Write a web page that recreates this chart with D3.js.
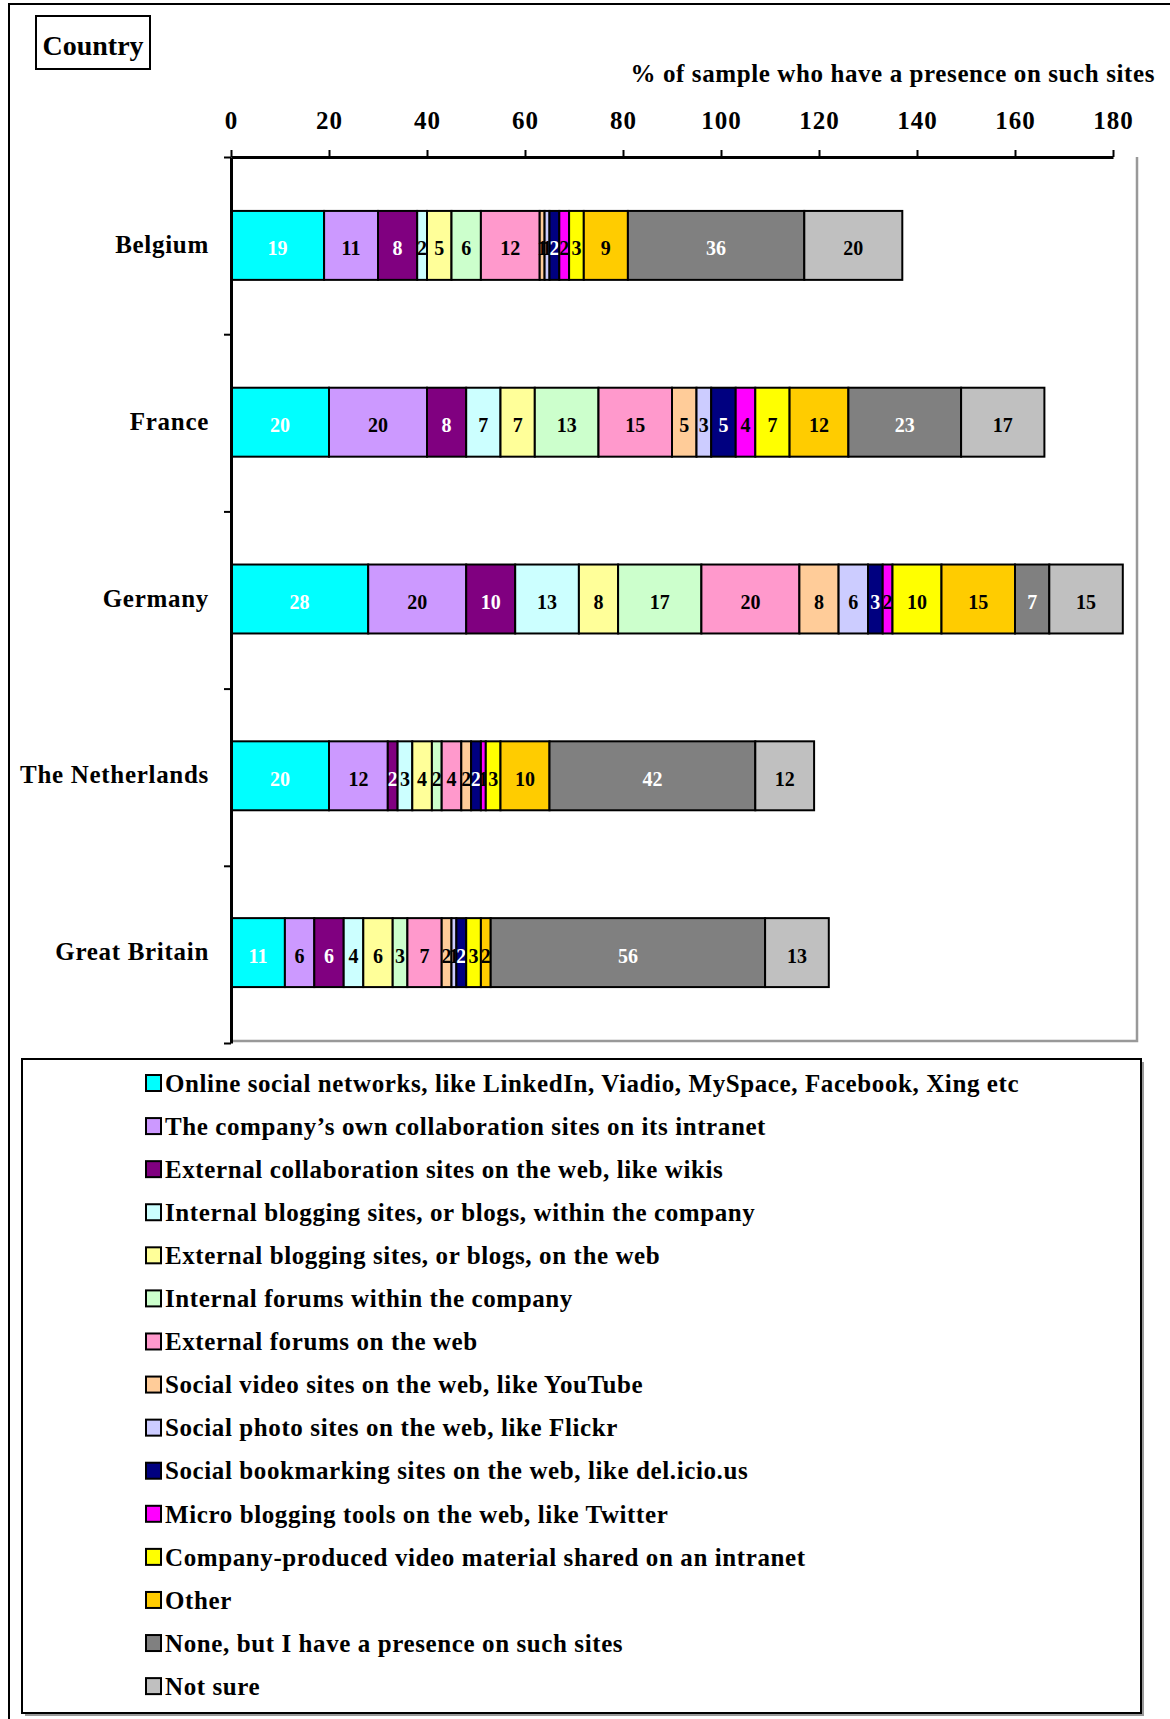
<!DOCTYPE html>
<html lang="en">
<head>
<meta charset="UTF-8">
<title>Presence on social sites by country</title>
<script src="https://cdn.jsdelivr.net/npm/d3@7/dist/d3.min.js"></script>
<style>
  body { margin: 0; background: #fff; }
  text { font-family: "Liberation Serif", "Times New Roman", serif; font-weight: bold; }
</style>
</head>
<body>
<script>
// categories (rows, top to bottom)
const countries = ['Belgium', 'France', 'Germany', 'The Netherlands', 'Great Britain'];

// series (stack order, left to right)
const seriesNames = [
  'Online social networks, like LinkedIn, Viadio, MySpace, Facebook, Xing etc',
  'The company\u2019s own collaboration sites on its intranet',
  'External collaboration sites on the web, like wikis',
  'Internal blogging sites, or blogs, within the company',
  'External blogging sites, or blogs, on the web',
  'Internal forums within the company',
  'External forums on the web',
  'Social video sites on the web, like YouTube',
  'Social photo sites on the web, like Flickr',
  'Social bookmarking sites on the web, like del.icio.us',
  'Micro blogging tools on the web, like Twitter',
  'Company-produced video material shared on an intranet',
  'Other',
  'None, but I have a presence on such sites',
  'Not sure'
];
const seriesColors = ['#00ffff', '#cc99ff', '#800080', '#ccffff', '#ffff99', '#ccffcc', '#ff99cc',
  '#ffcc99', '#ccccff', '#000080', '#ff00ff', '#ffff00', '#ffcc00', '#808080', '#c0c0c0'];
const whiteLabel = ['#00ffff', '#800080', '#000080', '#808080'];

// values per country, in series order
const belgium     = [19, 11, 8, 2, 5, 6, 12, 1, 1, 2, 2, 3, 9, 36, 20];
const france      = [20, 20, 8, 7, 7, 13, 15, 5, 3, 5, 4, 7, 12, 23, 17];
const germany     = [28, 20, 10, 13, 8, 17, 20, 8, 6, 3, 2, 10, 15, 7, 15];
const netherlands = [20, 12, 2, 3, 4, 2, 4, 2, 0, 2, 1, 3, 10, 42, 12];
const britain     = [11, 6, 6, 4, 6, 3, 7, 2, 1, 2, 0, 3, 2, 56, 13];

const xTicks = [0, 20, 40, 60, 80, 100, 120, 140, 160, 180];

const rows = [belgium, france, germany, netherlands, britain].map((vals, i) => {
  const r = { country: countries[i] };
  seriesNames.forEach((s, j) => r[s] = vals[j]);
  return r;
});

const width = 1170, height = 1719;
const plot = { left: 231, top: 157, right: 1137, bottom: 1041 };

const svg = d3.select('body').append('svg')
  .attr('width', width)
  .attr('height', height);

// outer frame (left and top edges)
svg.append('path')
  .attr('d', `M9,${height} V4 H${width}`)
  .attr('fill', 'none')
  .attr('stroke', '#000')
  .attr('stroke-width', 2);

const x = d3.scaleLinear().domain([0, 180]).range([plot.left, 1113]);
const y = d3.scaleBand().domain(countries).range([plot.top, plot.bottom]).paddingInner(0.61).paddingOuter(0.305);

// plot area right/bottom border
svg.append('path')
  .attr('d', `M${plot.right},${plot.top} V${plot.bottom} H${plot.left}`)
  .attr('fill', 'none')
  .attr('stroke', '#999')
  .attr('stroke-width', 2.5);

// stacked bars
const stack = d3.stack().keys(seriesNames)(rows);

const layers = svg.selectAll('g.layer')
  .data(stack)
  .enter().append('g')
  .attr('class', 'layer')
  .attr('fill', (d, i) => seriesColors[i]);

layers.selectAll('rect')
  .data(d => d.filter(p => p[1] > p[0]))
  .enter().append('rect')
  .attr('x', d => x(d[0]))
  .attr('y', d => y(d.data.country))
  .attr('width', d => x(d[1]) - x(d[0]))
  .attr('height', y.bandwidth())
  .attr('stroke', '#000')
  .attr('stroke-width', 2);

layers.each(function (layer, i) {
  d3.select(this).selectAll('text')
    .data(layer.filter(p => p[1] > p[0]))
    .enter().append('text')
    .attr('x', d => (x(d[0]) + x(d[1])) / 2)
    .attr('y', d => y(d.data.country) + y.bandwidth() / 2)
    .attr('dy', '0.5em')
    .attr('text-anchor', 'middle')
    .attr('font-size', 20)
    .attr('fill', whiteLabel.includes(seriesColors[i]) ? '#fff' : '#000')
    .text(d => d[1] - d[0]);
});

// top axis
const xAxis = svg.append('g')
  .attr('transform', `translate(0,${plot.top})`)
  .call(d3.axisTop(x).tickValues(xTicks).tickSize(7).tickPadding(21).tickSizeOuter(0));
xAxis.select('.domain').attr('stroke-width', 3);
xAxis.selectAll('.tick line').attr('stroke-width', 2);
xAxis.selectAll('.tick text')
  .attr('font-size', 25)
  .attr('letter-spacing', 1)
  .attr('font-family', '"Liberation Serif", serif')
  .attr('font-weight', 'bold')
  .attr('fill', '#000');

// left axis, ticks at band edges
const yEdge = d3.scaleLinear().domain([0, countries.length]).range([plot.top, plot.bottom + 2]);
const yAxis = svg.append('g')
  .attr('transform', `translate(${plot.left},0)`)
  .call(d3.axisLeft(yEdge).ticks(countries.length).tickFormat('').tickSize(7).tickSizeOuter(0));
yAxis.select('.domain').attr('stroke-width', 3);
yAxis.selectAll('.tick line').attr('stroke-width', 2);

// country labels
svg.append('g').selectAll('text')
  .data(countries)
  .enter().append('text')
  .attr('x', 209)
  .attr('y', d => y(d) + y.bandwidth() / 2)
  .attr('dy', '0.3em')
  .attr('text-anchor', 'end')
  .attr('font-size', 25)
  .attr('letter-spacing', 0.7)
  .text(d => d);

// axis title
svg.append('text')
  .attr('x', 1155)
  .attr('y', 82)
  .attr('text-anchor', 'end')
  .attr('font-size', 25)
  .attr('letter-spacing', 0.6)
  .text('% of sample who have a presence on such sites');

// "Country" box
svg.append('rect')
  .attr('x', 36).attr('y', 16).attr('width', 114).attr('height', 53)
  .attr('fill', '#fff').attr('stroke', '#000').attr('stroke-width', 2);
svg.append('text')
  .attr('x', 93).attr('y', 55)
  .attr('text-anchor', 'middle')
  .attr('font-size', 28)
  .text('Country');

// legend
const lg = { x: 22, y: 1059, w: 1119, h: 654 };
svg.append('rect')
  .attr('x', lg.x + 3).attr('y', lg.y + 3).attr('width', lg.w).attr('height', lg.h)
  .attr('fill', '#999');
svg.append('rect')
  .attr('x', lg.x).attr('y', lg.y).attr('width', lg.w).attr('height', lg.h)
  .attr('fill', '#fff').attr('stroke', '#000').attr('stroke-width', 2);

const items = svg.append('g').selectAll('g')
  .data(seriesNames)
  .enter().append('g')
  .attr('transform', (d, i) => `translate(146,${1083 + i * 43.08})`);

items.append('rect')
  .attr('x', 0).attr('y', -8)
  .attr('width', 15).attr('height', 16)
  .attr('fill', (d, i) => seriesColors[i])
  .attr('stroke', '#000')
  .attr('stroke-width', 2);

items.append('text')
  .attr('x', 19)
  .attr('dy', '0.35em')
  .attr('font-size', 25)
  .attr('letter-spacing', 0.6)
  .text(d => d);
</script>
</body>
</html>
